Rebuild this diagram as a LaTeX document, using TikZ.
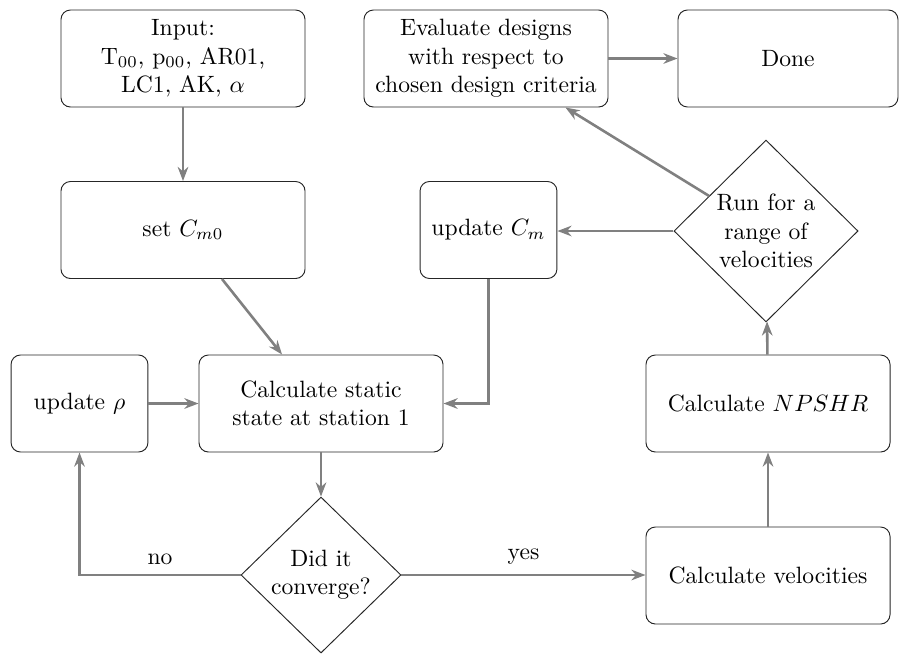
\documentclass[tikz,border=0pt]{standalone}
\usetikzlibrary{shapes.geometric,arrows.meta}
\begin{document}
\begin{tikzpicture}[x=0.4237pt,y=-0.4237pt,
  box/.style={draw=black!85,rounded corners=4pt,align=center,minimum height=41.1pt,inner sep=2pt},
  wide/.style={box,minimum width=103.4pt},
  narrow/.style={box,minimum width=58pt},
  dia/.style={draw=black!85,diamond,aspect=1,align=center,inner sep=0pt},
  arr/.style={draw=black!50,line width=1.1pt,-{Stealth[length=6pt,width=4.5pt]}},
  lab/.style={above,inner sep=4pt}]
\useasboundingbox (0,0) rectangle (909,653);
\node[wide] (input) at (183,58.5) {Input:\\ T$_{00}$, p$_{00}$, AR01,\\ LC1, AK, $\alpha$};
\node[wide] (eval) at (486,58.5) {Evaluate designs\\ with respect to\\ chosen design criteria};
\node[box,minimum width=93.2pt] (done) at (788,58.5) {Done};
\node[wide] (setcm) at (183,230) {set $C_{m0}$};
\node[narrow] (updcm) at (488.5,230) {update $C_m$};
\node[dia,minimum width=78pt,minimum height=77.1pt] (run) at (766,231) {Run for a\\ range of\\ velocities};
\node[narrow] (rho) at (79.5,403.5) {update $\rho$};
\node[wide] (calc) at (321,403.5) {Calculate static\\ state at station 1};
\node[wide] (npshr) at (768,403.5) {Calculate $NPSHR$};
\node[dia,minimum width=67.8pt,minimum height=66.1pt] (conv) at (321,575) {Did it\\ converge?};
\node[wide] (vel) at (768,575.5) {Calculate velocities};
\draw[arr] (input) -- (setcm);
\draw[arr] (setcm) -- (calc);
\draw[arr] (updcm.south) |- (calc.east);
\draw[arr] (run.west) -- (run.west -| updcm.east);
\draw[arr] (run) -- (eval);
\draw[arr] (rho) -- (calc);
\draw[arr] (calc) -- (conv);
\draw[arr] (conv.west) -| node[lab,pos=0.25] {no} (rho.south);
\draw[arr] (conv.east) -- node[lab] {yes} (conv.east -| vel.west);
\draw[arr] (vel) -- (npshr);
\draw[arr] (npshr) -- (run);
\draw[arr] (eval) -- (done);
\end{tikzpicture}
\end{document}
